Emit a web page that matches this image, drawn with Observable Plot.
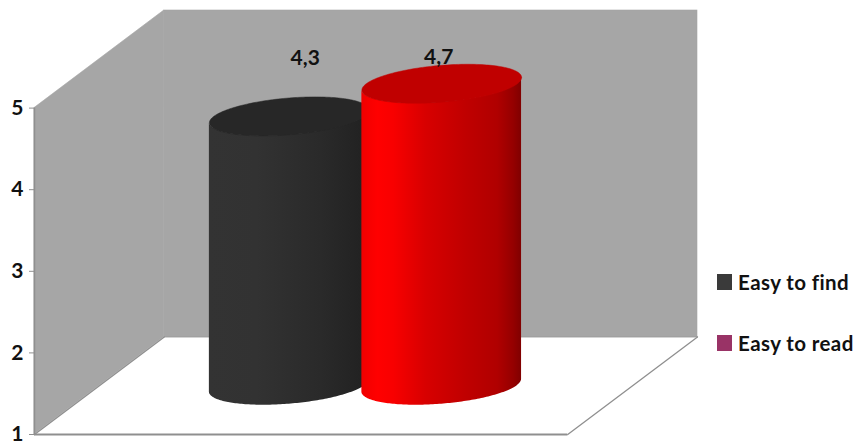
<!DOCTYPE html>
<html>
<head>
<meta charset="utf-8">
<script src="https://cdn.jsdelivr.net/npm/d3@7"></script>
<script src="https://cdn.jsdelivr.net/npm/@observablehq/plot@0.6"></script>
<style>
  html, body { margin: 0; background: #fff; }
  #chart { position: relative; width: 859px; height: 445px; overflow: hidden; }
  #chart svg { display: block; }
  .legend { position: absolute; left: 717px; top: 268px; font: 700 20.5px Lato, sans-serif; letter-spacing: 0.4px; color: #111; }
  .legend div { display: flex; align-items: center; height: 28px; margin-bottom: 33px; white-space: nowrap; }
  .legend i { width: 15px; height: 16px; margin-right: 6px; }
</style>
</head>
<body>
<div id="chart"></div>
<script>
// Chart values
const series = ["Easy to find", "Easy to read"];
const values = [4.3, 4.7];
const yTicks = [1, 2, 3, 4, 5];
const barFill = ["#272727", "#c00000"];
const swatches = ["#3a3a3a", "#993366"];
const barStops = [
  [[0, "#333333"], [0.3, "#323232"], [0.7, "#2a2a2a"], [1, "#212121"]],
  [[0, "#f00000"], [0.1, "#ff0000"], [0.2, "#f80000"], [0.4, "#d80000"], [0.65, "#c00000"], [0.85, "#b00000"], [0.95, "#950000"], [1, "#800000"]]
];

// Oblique projection: a unit of depth shifts right and up in data units
const shearX = 0.2434;
const shearY = 1.196;
const centers = [0.356, 0.642];
const radiusX = 0.1416;
const radiusZ = 0.2;

const project = (u, v, z) => ({x: u + z * shearX, y: v + z * shearY});
const phi = Math.atan2(radiusZ * shearX, radiusX);

// Point on a bar's circular section, at angle a from the silhouette's right end
const rim = (u, v, a) => {
  const t = a + phi;
  return project(u + radiusX * Math.cos(t), v, 0.5 + radiusZ * Math.sin(t));
};

const angles = d3.range(0, 121).map((i) => Math.PI + (i / 120) * Math.PI);
const bodies = values.map((v, k) => angles.map((a) => {
  const low = rim(centers[k], 1, a);
  const high = rim(centers[k], v, a);
  return {x: low.x, y1: low.y, y2: high.y};
}));
const caps = values.map((v, k) => d3.range(0, 181).map((i) => rim(centers[k], v, (i / 180) * 2 * Math.PI)));

const wallGrey = "#a6a6a6";
const edgeGrey = "#8f8f8f";

const gradients = () => {
  const defs = d3.create("svg:defs");
  barStops.forEach((stops, k) => {
    const g = defs.append("linearGradient").attr("id", `bar-${k}`);
    stops.forEach(([o, c]) => g.append("stop").attr("offset", o).attr("stop-color", c));
  });
  return defs.node();
};

const decimal = (v) => String(v).replace(".", ",");
const labelFont = {fontSize: 21, fontWeight: 700, fontFamily: "Lato, sans-serif", fill: "#111"};

const plot = Plot.plot({
  width: 859,
  height: 445,
  marginLeft: 34,
  marginRight: 162,
  marginTop: 10,
  marginBottom: 11,
  style: {background: "#fff", fontFamily: "Lato, sans-serif"},
  x: {domain: [0, 1 + shearX], axis: null},
  y: {domain: [1, 5 + shearY], axis: null},
  marks: [
    gradients,
    // Side wall and back wall
    Plot.areaY([project(0, 1, 0), project(0, 1, 1)], {
      x: "x",
      y1: "y",
      y2: (d) => d.y + 4,
      fill: wallGrey,
      stroke: wallGrey,
      strokeWidth: 0.6
    }),
    Plot.rect([0], {x1: shearX, x2: 1 + shearX, y1: 1 + shearY, y2: 5 + shearY, fill: wallGrey, stroke: wallGrey, strokeWidth: 0.6}),
    // Floor edges
    Plot.line([project(0, 1, 1), project(1, 1, 1)], {x: "x", y: "y", stroke: edgeGrey, strokeWidth: 1}),
    Plot.line([project(0, 1, 0), project(0, 1, 1)], {x: "x", y: "y", stroke: edgeGrey, strokeWidth: 1.3}),
    Plot.line([project(1, 1, 0), project(1, 1, 1)], {x: "x", y: "y", stroke: edgeGrey, strokeWidth: 1.3}),
    Plot.ruleY([1], {x1: 0, x2: 1, stroke: edgeGrey, strokeWidth: 1.8}),
    // Vertical axis
    Plot.ruleX([0], {y1: 1, y2: 5, stroke: edgeGrey, strokeWidth: 1.5}),
    Plot.axisY({
      ticks: yTicks,
      tickFormat: (d) => String(d),
      tickSize: 5,
      tickPadding: 6,
      stroke: edgeGrey,
      label: null,
      ...labelFont
    }),
    // Cylinders, left one first so the right one overlaps it
    ...values.flatMap((v, k) => [
      Plot.areaY(bodies[k], {x: "x", y1: "y1", y2: "y2", fill: `url(#bar-${k})`}),
      Plot.line(caps[k], {x: "x", y: "y", fill: barFill[k], stroke: barFill[k], strokeWidth: 0.5})
    ]),
    // Value labels
    Plot.text([project(centers[0], values[0], 0.5)], {
      x: "x", y: "y", text: () => decimal(values[0]), dx: 16, dy: -58, ...labelFont
    }),
    Plot.text([project(centers[1], values[1], 0.5)], {
      x: "x", y: "y", text: () => decimal(values[1]), dx: -3, dy: -27, ...labelFont
    })
  ]
});

const chart = document.getElementById("chart");
chart.append(plot);

const legend = d3.select(chart).append("div").attr("class", "legend");
series.forEach((name, k) => {
  const row = legend.append("div");
  row.append("i").style("background", swatches[k]);
  row.append("span").text(name);
});
</script>
</body>
</html>
